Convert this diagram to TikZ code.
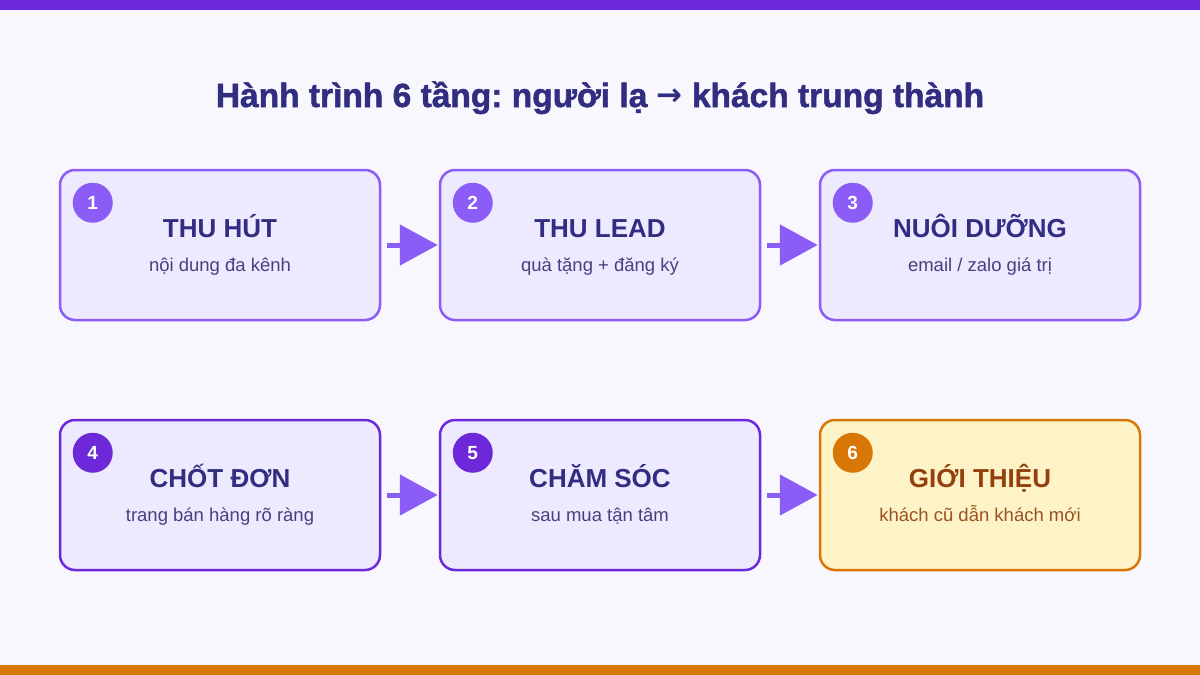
\documentclass[tikz,border=0pt]{standalone}
\usepackage{fontspec}
\setmainfont{Liberation Sans}
\newfontfamily\titlefont[FakeBold=1.5]{Liberation Sans Bold}
\newfontfamily\arrowfont{DejaVu Sans Bold}
\usetikzlibrary{arrows.meta}
\frenchspacing
\definecolor{bg}{HTML}{F8F7FE}
\definecolor{topbar}{HTML}{6D28D9}
\definecolor{botbar}{HTML}{D97706}
\definecolor{boxfill}{HTML}{EDE9FE}
\definecolor{lightpur}{HTML}{8B5CF6}
\definecolor{darkpur}{HTML}{6D28D9}
\definecolor{headcol}{HTML}{312E81}
\definecolor{subcol}{HTML}{46427F}
\definecolor{goldfill}{HTML}{FEF3C7}
\definecolor{goldline}{HTML}{D97706}
\definecolor{goldhead}{HTML}{92400E}
\definecolor{goldsub}{HTML}{9A5220}
\tikzset{
  stagebox/.style={draw=#1, line width=2.5pt, rounded corners=15pt, fill=boxfill,
    minimum width=320pt, minimum height=150pt, inner sep=0pt},
  numdot/.style={circle, fill=#1, minimum size=40pt, inner sep=0pt, text=white,
    font=\fontsize{19pt}{19pt}\selectfont\bfseries},
  headtxt/.style={font=\fontsize{26pt}{26pt}\selectfont\bfseries, text=headcol, inner sep=0pt, anchor=base},
  subtxt/.style={font=\fontsize{18.5pt}{18.5pt}\selectfont, text=subcol, inner sep=0pt, anchor=base},
  flowarr/.style={draw=lightpur, line width=5pt, -{Triangle[length=38pt,width=40pt,fill=lightpur]}},
}
\begin{document}
\begin{tikzpicture}[x=1pt,y=-1pt]
\useasboundingbox (0,0) rectangle (1200,675);
\fill[bg] (0,0) rectangle (1200,675);
\fill[topbar] (0,0) rectangle (1200,10);
\fill[botbar] (0,665) rectangle (1200,675);

\node[font=\fontsize{33.5pt}{33.5pt}\titlefont, text=headcol, anchor=base, inner sep=0pt] (title) at (600,107)
  {Hành trình 6 tầng: người lạ \raisebox{2pt}{\arrowfont\fontsize{31pt}{31pt}\selectfont →} khách trung thành};

% row 1
\node[stagebox=lightpur] (b1) at (220,245) {};
\node[stagebox=lightpur] (b2) at (600,245) {};
\node[stagebox=lightpur] (b3) at (980,245) {};
% row 2
\node[stagebox=darkpur] (b4) at (220,495) {};
\node[stagebox=darkpur] (b5) at (600,495) {};
\node[stagebox=goldline, fill=goldfill] (b6) at (980,495) {};

\foreach \b/\n/\c in {b1/1/lightpur, b2/2/lightpur, b3/3/lightpur, b4/4/darkpur, b5/5/darkpur, b6/6/goldline}{
  \node[numdot=\c] (n\n) at ([xshift=34pt,yshift=-34pt]\b.north west) {\n};
}

\node[headtxt] (h1) at ([yshift=8pt]b1.center) {THU HÚT};
\node[subtxt] (s1) at ([yshift=-26pt]b1.center) {nội dung đa kênh};
\node[headtxt] (h2) at ([yshift=8pt]b2.center) {THU LEAD};
\node[subtxt] (s2) at ([yshift=-26pt]b2.center) {quà tặng + đăng ký};
\node[headtxt] (h3) at ([yshift=8pt]b3.center) {NUÔI DƯỠNG};
\node[subtxt] (s3) at ([yshift=-26pt]b3.center) {email / zalo giá trị};
\node[headtxt] (h4) at ([yshift=8pt]b4.center) {CHỐT ĐƠN};
\node[subtxt] (s4) at ([yshift=-26pt]b4.center) {trang bán hàng rõ ràng};
\node[headtxt] (h5) at ([yshift=8pt]b5.center) {CHĂM SÓC};
\node[subtxt] (s5) at ([yshift=-26pt]b5.center) {sau mua tận tâm};
\node[headtxt, text=goldhead] (h6) at ([yshift=8pt]b6.center) {GIỚI THIỆU};
\node[subtxt, text=goldsub] (s6) at ([yshift=-26pt]b6.center) {khách cũ dẫn khách mới};

\draw[flowarr] ([xshift=6pt]b1.east) -- ([xshift=-1pt]b2.west);
\draw[flowarr] ([xshift=6pt]b2.east) -- ([xshift=-1pt]b3.west);
\draw[flowarr] ([xshift=6pt]b4.east) -- ([xshift=-1pt]b5.west);
\draw[flowarr] ([xshift=6pt]b5.east) -- ([xshift=-1pt]b6.west);
\end{tikzpicture}
\end{document}
